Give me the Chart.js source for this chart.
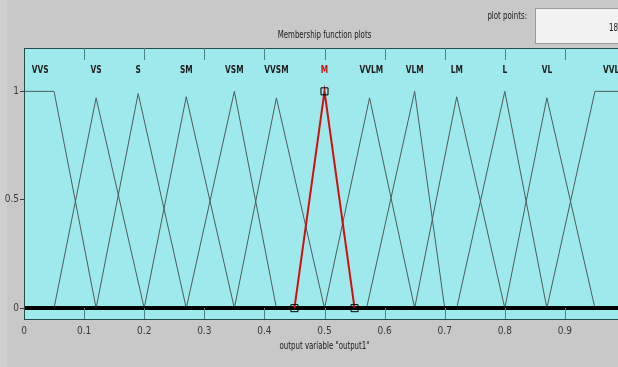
<!DOCTYPE html>
<html>
<head>
<meta charset="utf-8">
<script src="https://cdn.jsdelivr.net/npm/chart.js@4"></script>
<style>
  html, body { margin: 0; padding: 0; overflow: hidden; background: #c8c8c8; }
  #wrap { width: 618px; height: 367px; overflow: hidden; }
</style>
</head>
<body>
<div id="wrap"><canvas id="mf" width="640" height="367"></canvas></div>
<script>
// membership functions of output1 (vertices)
const mfNames = ["VVS", "VS", "S", "SM", "VSM", "VVSM", "M", "VVLM", "VLM", "LM", "L", "VL", "VVL"];
const mfX = [
  [0, 0.05, 0.12, 1],
  [0, 0.05, 0.12, 0.2, 1],
  [0, 0.12, 0.19, 0.27, 1],
  [0, 0.2, 0.27, 0.35, 1],
  [0, 0.27, 0.35, 0.42, 1],
  [0, 0.35, 0.42, 0.5, 1],
  [0, 0.45, 0.5, 0.55, 1],
  [0, 0.5, 0.575, 0.65, 1],
  [0, 0.57, 0.65, 0.7, 1],
  [0, 0.65, 0.72, 0.8, 1],
  [0, 0.72, 0.8, 0.87, 1],
  [0, 0.8, 0.87, 0.95, 1],
  [0, 0.87, 0.95, 1]
];
const mfY = [
  [1, 1, 0, 0],
  [0, 0, 0.97, 0, 0],
  [0, 0, 0.99, 0, 0],
  [0, 0, 0.975, 0, 0],
  [0, 0, 1, 0, 0],
  [0, 0, 0.97, 0, 0],
  [0, 0, 1, 0, 0],
  [0, 0, 0.97, 0, 0],
  [0, 0, 1, 0, 0],
  [0, 0, 0.975, 0, 0],
  [0, 0, 1, 0, 0],
  [0, 0, 0.97, 0, 0],
  [0, 0, 1, 1]
];
const labelX = [0.027, 0.12, 0.19, 0.27, 0.35, 0.42, 0.5, 0.578, 0.65, 0.72, 0.8, 0.87, 0.977];
const selectedMf = "M";
const xTicks = [0, 0.1, 0.2, 0.3, 0.4, 0.5, 0.6, 0.7, 0.8, 0.9, 1];
const yTicks = [0, 0.5, 1];

const FONT = "'Liberation Sans Narrow', 'DejaVu Sans Condensed', sans-serif";
const lineGray = "#4e5c5c";

const datasets = mfNames.map((name, i) => {
  const sel = name === selectedMf;
  return {
    label: name,
    data: mfX[i].map((x, j) => ({ x, y: mfY[i][j] })),
    showLine: true,
    borderColor: sel ? "#d01010" : lineGray,
    borderWidth: sel ? 2 : 1,
    order: sel ? 0 : 1,
    pointRadius: ctx => (sel && ctx.dataIndex > 0 && ctx.dataIndex < mfX[i].length - 1) ? 5 : 0,
    pointStyle: "rect",
    pointBorderColor: "#000",
    pointBorderWidth: 1,
    pointBackgroundColor: "rgba(0,0,0,0)",
    segment: {
      borderColor: c => (c.p0.parsed.y === 0 && c.p1.parsed.y === 0) ? "#000" : undefined,
      borderWidth: c => (c.p0.parsed.y === 0 && c.p1.parsed.y === 0) ? 3 : undefined
    }
  };
});

// narrow text like the MATLAB window
function narrowText(ctx, text, x, y, sx) {
  ctx.save();
  ctx.translate(x, y);
  ctx.scale(sx, 1);
  ctx.fillText(text, 0, 0);
  ctx.restore();
}

/* fondo, marco, etiquetas */
const matlabLook = {
  id: "matlabLook",
  beforeDraw(chart) {
    const { ctx, chartArea: a } = chart;
    ctx.save();
    ctx.fillStyle = "#c8c8c8";
    ctx.fillRect(0, 0, chart.width, chart.height);
    ctx.fillStyle = "#cfcfcf";
    ctx.fillRect(0, 0, 7, chart.height);
    ctx.fillStyle = "#9ee9eb";
    ctx.fillRect(a.left, a.top, a.right - a.left, a.bottom - a.top);
    ctx.restore();
  },
  afterDraw(chart) {
    const { ctx, chartArea: a } = chart;
    const xs = chart.scales.x;
    ctx.save();
    // frame
    ctx.strokeStyle = "#244c4c";
    ctx.lineWidth = 1;
    ctx.strokeRect(a.left + 0.5, a.top + 0.5, a.right - a.left, a.bottom - a.top);
    // inner x ticks
    ctx.strokeStyle = "#4a8484";
    xTicks.forEach(v => {
      if (v === 0) return;
      const px = Math.round(xs.getPixelForValue(v)) + 0.5;
      ctx.beginPath();
      ctx.moveTo(px, a.top); ctx.lineTo(px, a.top + 12);
      ctx.moveTo(px, a.bottom); ctx.lineTo(px, a.bottom - 11);
      ctx.stroke();
    });
    // MF names
    ctx.font = "bold 11px " + FONT;
    ctx.textAlign = "center";
    ctx.textBaseline = "middle";
    mfNames.forEach((name, i) => {
      ctx.fillStyle = name === selectedMf ? "#d01010" : "#202020";
      narrowText(ctx, name, xs.getPixelForValue(labelX[i]), 70, 0.75);
    });
    // titles
    const cx = (a.left + xs.getPixelForValue(1)) / 2;
    ctx.fillStyle = "#1a1a1a";
    ctx.font = "10px " + FONT;
    narrowText(ctx, "Membership function plots", cx, 35, 0.78);
    narrowText(ctx, 'output variable "output1"', cx, 346, 0.78);
    // plot points box
    ctx.textAlign = "right";
    narrowText(ctx, "plot points:", 527, 16, 0.78);
    ctx.fillStyle = "#f2f2f2";
    ctx.fillRect(535, 8, 110, 36);
    ctx.strokeStyle = "#9a9a9a";
    ctx.strokeRect(535.5, 8.5, 110, 35);
    ctx.fillStyle = "#1a1a1a";
    ctx.textAlign = "left";
    narrowText(ctx, "181", 609, 28, 0.8);
    ctx.restore();
  }
};

new Chart(document.getElementById("mf"), {
  type: "scatter",
  data: { datasets },
  plugins: [matlabLook],
  options: {
    responsive: false,
    animation: false,
    layout: { padding: { top: 48, right: 15, left: 0, bottom: 0 } },
    plugins: { legend: { display: false }, tooltip: { enabled: false } },
    scales: {
      x: {
        type: "linear", min: 0, max: 1,
        afterBuildTicks: s => { s.ticks = xTicks.map(v => ({ value: v })); },
        afterFit: s => { s.height = 48; },
        grid: { display: false, drawTicks: false },
        border: { display: false },
        ticks: {
          padding: 6, color: "#3a3a3a", maxRotation: 0, autoSkip: false,
          font: { family: FONT, size: 10 },
          callback: v => String(v)
        }
      },
      y: {
        type: "linear", min: -0.05, max: 1.2,
        afterBuildTicks: s => { s.ticks = yTicks.map(v => ({ value: v })); },
        afterFit: s => { s.width = 24; },
        grid: { drawOnChartArea: false, drawTicks: true, tickLength: 4, color: "#3a3a3a" },
        border: { display: false },
        ticks: {
          padding: 1, color: "#3a3a3a",
          font: { family: FONT, size: 10 },
          callback: v => String(v)
        }
      }
    }
  }
});
</script>
</body>
</html>
